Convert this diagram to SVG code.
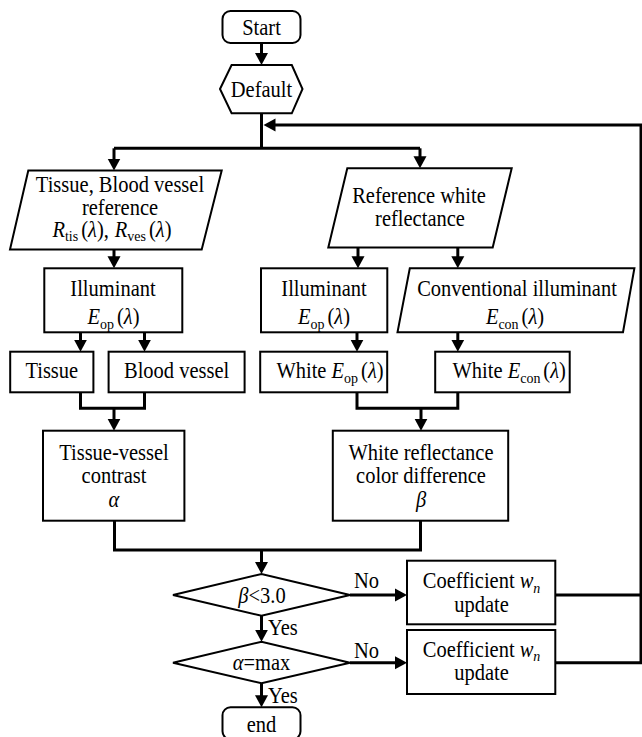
<svg xmlns="http://www.w3.org/2000/svg" width="642" height="737" viewBox="0 0 642 737">
<style>
.n{fill:#fff;stroke:#000;stroke-width:2}
.c{fill:none;stroke:#000;stroke-width:3}
text{font-family:"Liberation Serif","Times New Roman",serif;font-size:20.5px;fill:#000;text-anchor:middle}
.l{text-anchor:start}
.i{font-style:italic}
.s{font-size:14px}
</style>
<defs>
<marker id="ah" markerUnits="userSpaceOnUse" markerWidth="13" markerHeight="14" refX="1" refY="7" orient="auto">
<path d="M0,0.5 L12,7 L0,13.5 z" fill="#000"/>
</marker>
</defs>
<rect width="642" height="737" fill="#fff"/>
<g id="connectors">
<path class="c" d="M261.5,43 V54" marker-end="url(#ah)"/>
<path class="c" d="M261.5,113 V148.3"/>
<path class="c" d="M114,148.3 H420"/>
<path class="c" d="M114,148.3 V159.5" marker-end="url(#ah)"/>
<path class="c" d="M420,148.3 V157.3" marker-end="url(#ah)"/>
<path class="c" d="M555.3,662.7 H641 V125 H274.5" marker-end="url(#ah)"/>
<path class="c" d="M555.3,595 H641"/>
<path class="c" d="M114,249.5 V257.3" marker-end="url(#ah)"/>
<path class="c" d="M358,247.5 V257.3" marker-end="url(#ah)"/>
<path class="c" d="M457.8,247.5 V257.3" marker-end="url(#ah)"/>
<path class="c" d="M80.5,332.3 V340.7" marker-end="url(#ah)"/>
<path class="c" d="M144.5,332.3 V340.7" marker-end="url(#ah)"/>
<path class="c" d="M357,332.3 V340.7" marker-end="url(#ah)"/>
<path class="c" d="M457.8,332.3 V340.7" marker-end="url(#ah)"/>
<path class="c" d="M80.5,392.3 V408.3 H144.5 V392.3"/>
<path class="c" d="M114,408.3 V419.7" marker-end="url(#ah)"/>
<path class="c" d="M357,392.3 V408.3 H457.8 V392.3"/>
<path class="c" d="M421,408.3 V419.7" marker-end="url(#ah)"/>
<path class="c" d="M114.5,520.7 V550 H420.5 V520.7"/>
<path class="c" d="M261.5,550 V563" marker-end="url(#ah)"/>
<path class="c" d="M350,595 H396" marker-end="url(#ah)"/>
<path class="c" d="M261.5,615.7 V630.7" marker-end="url(#ah)"/>
<path class="c" d="M350,662.7 H396" marker-end="url(#ah)"/>
<path class="c" d="M261.5,683.3 V696.3" marker-end="url(#ah)"/>
<text class="l" transform="translate(354,588.3) scale(1,1.1)">No</text>
<text class="l" transform="translate(354,658.3) scale(1,1.1)">No</text>
<text class="l" transform="translate(268,635) scale(1,1.1)">Yes</text>
<text class="l" transform="translate(268,703.3) scale(1,1.1)">Yes</text>
</g>
<g id="start">
<rect class="n" x="222.5" y="11" width="78" height="32" rx="8"/>
<text transform="translate(261.5,34.5) scale(1,1.1)">Start</text>
</g>
<g id="default">
<polygon class="n" points="220,89 231.6,65 291.8,65 302.5,89 291.8,113.3 231.6,113.3"/>
<text transform="translate(261.5,96.5) scale(1,1.1)">Default</text>
</g>
<g id="tissue-ref">
<polygon class="n" points="28.3,170.5 221.7,170.5 201.7,249.5 10,249.5"/>
<text transform="translate(120,191.5) scale(1,1.1)">Tissue, Blood vessel</text>
<text transform="translate(120,215) scale(1,1.1)">reference</text>
<text transform="translate(112,237) scale(1,1.1)"><tspan class="i">R</tspan><tspan class="s" dy="4">tis</tspan><tspan dy="-4" dx="3">(</tspan><tspan class="i">λ</tspan>),<tspan class="i" dx="6">R</tspan><tspan class="s" dy="4">ves</tspan><tspan dy="-4" dx="3">(</tspan><tspan class="i">λ</tspan>)</text>
</g>
<g id="white-ref">
<polygon class="n" points="347.3,168.3 511.7,168.3 492.7,247.5 328.3,247.5"/>
<text transform="translate(419,203.3) scale(1,1.1)">Reference white</text>
<text transform="translate(420,226) scale(1,1.1)">reflectance</text>
</g>
<g id="illum-left">
<rect class="n" x="44.3" y="268.3" width="138" height="64"/>
<text transform="translate(113,295.7) scale(1,1.1)">Illuminant</text>
<text transform="translate(113.5,324.3) scale(1,1.1)"><tspan class="i">E</tspan><tspan class="s" dy="4">op</tspan><tspan dy="-4" dx="3">(</tspan><tspan class="i">λ</tspan>)</text>
</g>
<g id="illum-right">
<rect class="n" x="261" y="268.3" width="126.3" height="64"/>
<text transform="translate(324,295.7) scale(1,1.1)">Illuminant</text>
<text transform="translate(324,324.3) scale(1,1.1)"><tspan class="i">E</tspan><tspan class="s" dy="4">op</tspan><tspan dy="-4" dx="3">(</tspan><tspan class="i">λ</tspan>)</text>
</g>
<g id="conv-illum">
<polygon class="n" points="409.8,268.3 634.4,268.3 623,332.3 397.5,332.3"/>
<text transform="translate(517,295.7) scale(1,1.1)">Conventional illuminant</text>
<text transform="translate(515,324.3) scale(1,1.1)"><tspan class="i">E</tspan><tspan class="s" dy="4">con</tspan><tspan dy="-4" dx="3">(</tspan><tspan class="i">λ</tspan>)</text>
</g>
<g id="tissue">
<rect class="n" x="10.2" y="351.7" width="83.2" height="40.6"/>
<text transform="translate(51.8,378.3) scale(1,1.1)">Tissue</text>
</g>
<g id="blood-vessel">
<rect class="n" x="108.6" y="351.7" width="136" height="40.6"/>
<text transform="translate(176.6,378.3) scale(1,1.1)">Blood vessel</text>
</g>
<g id="white-eop">
<rect class="n" x="260.2" y="351.7" width="127" height="40.6"/>
<text transform="translate(330,378.3) scale(1,1.1)">White <tspan class="i">E</tspan><tspan class="s" dy="4">op</tspan><tspan dy="-4" dx="3">(</tspan><tspan class="i">λ</tspan>)</text>
</g>
<g id="white-econ">
<rect class="n" x="435.2" y="351.7" width="134.5" height="40.6"/>
<text transform="translate(509.2,378.3) scale(1,1.1)">White <tspan class="i">E</tspan><tspan class="s" dy="4">con</tspan><tspan dy="-4" dx="3">(</tspan><tspan class="i">λ</tspan>)</text>
</g>
<g id="contrast">
<rect class="n" x="43" y="430.7" width="141.4" height="90"/>
<text transform="translate(114,460) scale(1,1.1)">Tissue-vessel</text>
<text transform="translate(114,483.3) scale(1,1.1)">contrast</text>
<text class="i" transform="translate(114,507.3) scale(1,1.1)">α</text>
</g>
<g id="color-diff">
<rect class="n" x="332.8" y="430.7" width="175.4" height="90"/>
<text transform="translate(421,460) scale(1,1.1)">White reflectance</text>
<text transform="translate(421,483.3) scale(1,1.1)">color difference</text>
<text class="i" transform="translate(421,507.3) scale(1,1.1)">β</text>
</g>
<g id="beta-check">
<polygon class="n" points="173,595 261.5,574 350,595 261.5,615.7"/>
<text transform="translate(262,603.3) scale(1,1.1)"><tspan class="i">β</tspan>&lt;3.0</text>
</g>
<g id="coef-1">
<rect class="n" x="407" y="560.7" width="148.3" height="63.6"/>
<text transform="translate(481.6,588.3) scale(1,1.1)">Coefficient <tspan class="i">w</tspan><tspan class="s i" dy="4">n</tspan></text>
<text transform="translate(481.6,611.7) scale(1,1.1)">update</text>
</g>
<g id="alpha-check">
<polygon class="n" points="173,662.7 261.5,641.7 350,662.7 261.5,683.3"/>
<text transform="translate(261.5,670) scale(1,1.1)"><tspan class="i">α</tspan>=max</text>
</g>
<g id="coef-2">
<rect class="n" x="407" y="630" width="148.3" height="64"/>
<text transform="translate(481.6,656.7) scale(1,1.1)">Coefficient <tspan class="i">w</tspan><tspan class="s i" dy="4">n</tspan></text>
<text transform="translate(481.6,680) scale(1,1.1)">update</text>
</g>
<g id="end">
<rect class="n" x="222.5" y="707.3" width="78" height="32" rx="8"/>
<text transform="translate(261.5,731.5) scale(1,1.1)">end</text>
</g>
</svg>
